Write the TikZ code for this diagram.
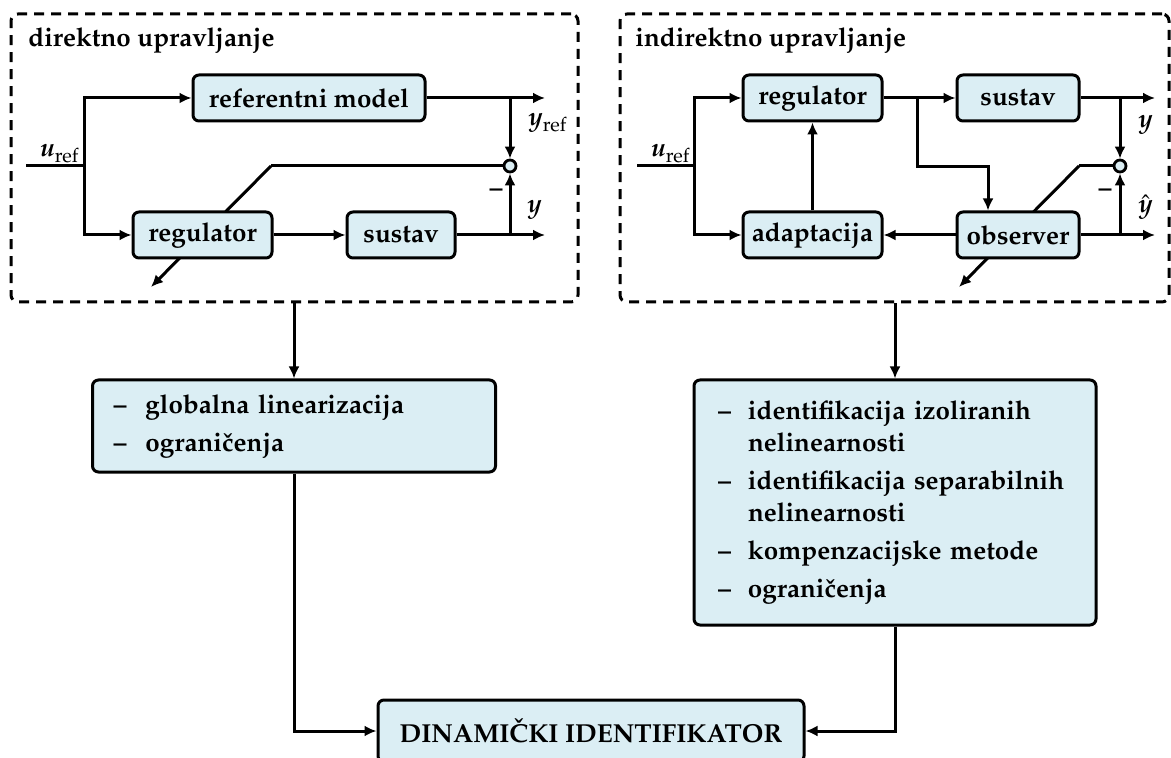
\documentclass[tikz,border=0pt]{standalone}
\usepackage[T1]{fontenc}
\usepackage{mathpazo}
\usetikzlibrary{arrows.meta,calc,backgrounds}
\definecolor{boxfill}{RGB}{219,238,244}
\tikzset{
  blk/.style={draw, line width=1.5pt, rounded corners=3pt, fill=boxfill,
    font=\fontsize{13}{16}\selectfont\bfseries, inner sep=0pt},
  conn/.style={line width=1.5pt},
  arr/.style={conn, -{Latex[length=6pt,width=5.5pt]}},
  grp/.style={draw, dash pattern=on 5pt off 3.5pt, line width=1.5pt,
    rounded corners=3.5pt, inner sep=0pt},
  lbl/.style={font=\fontsize{13}{16}\selectfont\bfseries, inner sep=0pt},
  sumc/.style={circle, draw, line width=1.4pt, fill=boxfill, minimum size=6pt, inner sep=0pt},
  lst/.style={blk, align=left, inner ysep=0pt},
}
\newcommand{\bi}[1]{\textbf{\textit{#1}}}
\begin{document}
\begin{tikzpicture}[x=0.5pt,y=-0.5pt]
\useasboundingbox (0,0) rectangle (1171,758);
% group frames
\node[grp, minimum width=283.5pt, minimum height=144pt] (dbL) at (294.5,158) {};
\node[grp, minimum width=274.5pt, minimum height=144pt] (dbR) at (894.5,158) {};
\node[lbl, anchor=base west] (tL) at (28,47) {direktno upravljanje};
\node[lbl, anchor=base west] (tR) at (635,47) {indirektno upravljanje};

% ---------- left diagram ----------
\node[blk, minimum width=116pt, minimum height=23pt] (rm) at (309,98) {referentni model};
\node[blk, minimum width=69.5pt, minimum height=23pt] (regL) at (202.5,235) {regulator};
\node[blk, minimum width=54pt, minimum height=23pt] (susL) at (401,235) {sustav};
\node[sumc] (sumL) at (510,166) {};
\coordinate (inL) at (26,166);
\coordinate (jL) at (84,166);
\coordinate (oL1) at (545,98);
\coordinate (oL2) at (545,235);
\coordinate (kL) at (271,166);
\coordinate (dL) at (151,287);
\draw[conn] (inL) -- (jL);
\draw[arr] (jL) |- (rm.west);
\draw[arr] (jL) |- (regL.west);
\draw[arr] (regL) -- (susL);
\draw[arr] (rm.east) -- (oL1);
\draw[arr] (susL.east) -- (oL2);
\draw[arr] (rm.east -| sumL) -- (sumL.north);
\draw[arr] (susL.east -| sumL) -- (sumL.south);
\draw[conn] (sumL.west) -- (kL);
\begin{scope}[on background layer]
\draw[arr] (kL) -- (dL);
\end{scope}
\node[lbl, anchor=base west] (uL) at (40,157) {\bi{u}$_{\mathrm{ref}}$};
\node[lbl, anchor=base west] (yrL) at (528,126) {\bi{y}$_{\mathrm{ref}}$};
\node[lbl, anchor=base west] (yL) at (527,213) {\bi{y}};
\node[lbl] (mL) at (496,193) {--};

% ---------- right diagram ----------
\node[blk, minimum width=69.5pt, minimum height=23pt] (regR) at (812.5,98) {regulator};
\node[blk, minimum width=61pt, minimum height=23pt] (susR) at (1018,98) {sustav};
\node[blk, minimum width=69.5pt, minimum height=23pt] (adaR) at (812.5,235) {adaptacija};
\node[blk, minimum width=61pt, minimum height=23pt] (obsR) at (1018,235) {observer};
\node[sumc] (sumR) at (1120,166) {};
\coordinate (inR) at (637,166);
\coordinate (jR) at (694,166);
\coordinate (oR1) at (1155,98);
\coordinate (oR2) at (1155,235);
\coordinate (kR) at (1079,166);
\coordinate (dR) at (959,287);
\coordinate (bR) at (917,98);
\coordinate (bR2) at (917,167);
\draw[conn] (inR) -- (jR);
\draw[arr] (jR) |- (regR.west);
\draw[arr] (jR) |- (adaR.west);
\draw[arr] (regR) -- (susR);
\draw[arr] (bR) -- (bR2) -| ([xshift=-15pt]obsR.north);
\draw[arr] (adaR) -- (regR);
\draw[arr] (obsR) -- (adaR);
\draw[arr] (susR.east) -- (oR1);
\draw[arr] (obsR.east) -- (oR2);
\draw[arr] (susR.east -| sumR) -- (sumR.north);
\draw[arr] (obsR.east -| sumR) -- (sumR.south);
\draw[conn] (sumR.west) -- (kR);
\begin{scope}[on background layer]
\draw[arr] (kR) -- (dR);
\end{scope}
\node[lbl, anchor=base west] (uR) at (651,157) {\bi{u}$_{\mathrm{ref}}$};
\node[lbl, anchor=base west] (yR) at (1138,128) {\bi{y}};
\node[lbl, anchor=base west] (yhR) at (1138,213) {$\hat{\mbox{\bi{y}}}$};
\node[lbl] (mR) at (1105,193) {--};

% ---------- lists ----------
\node[lst, text width=180.5pt, inner xsep=10.5pt, minimum height=46pt] (listL) at (294,426)
  {\begin{tabular}{@{}p{16pt}@{}l@{}}
   -- & globalna linearizacija\\[3pt]
   -- & ograni\v{c}enja
   \end{tabular}};
\node[lst, text width=177pt, inner xsep=12pt, minimum height=122.5pt] (listR) at (895,502.5)
  {\begin{tabular}{@{}p{15pt}@{}l@{}}
   -- & identifikacija izoliranih\\
      & nelinearnosti\\[3pt]
   -- & identifikacija separabilnih\\
      & nelinearnosti\\[3pt]
   -- & kompenzacijske metode\\[3pt]
   -- & ograni\v{c}enja
   \end{tabular}};
\node[blk, minimum width=213pt, minimum height=31pt] (dinB) at (591,731) {DINAMI\v{C}KI IDENTIFIKATOR};

\draw[arr] (dbL.south -| listL.north) -- (listL.north);
\draw[arr] (dbR.south -| listR.north) -- (listR.north);
\draw[arr] (listL.south) |- (dinB.west);
\draw[arr] (listR.south) |- (dinB.east);
\end{tikzpicture}
\end{document}
